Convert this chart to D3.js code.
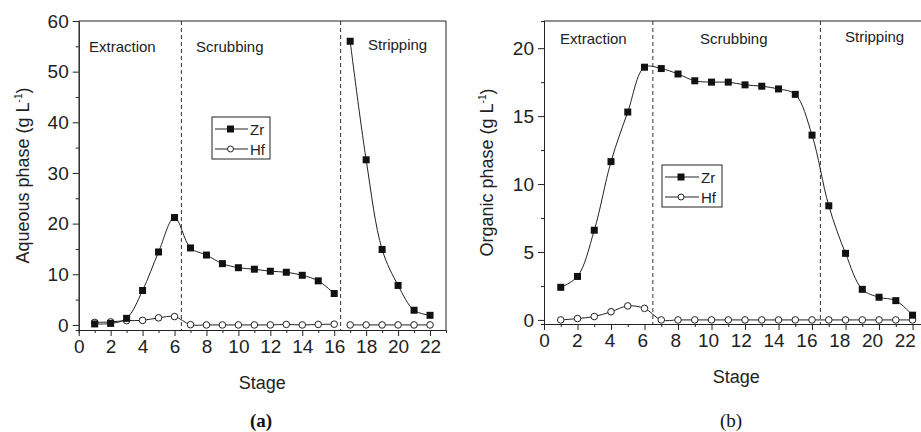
<!DOCTYPE html>
<html>
<head>
<meta charset="utf-8">
<script src="https://cdn.jsdelivr.net/npm/d3@7"></script>
<style>
  body { margin: 0; background: #fff; }
  svg { display: block; font-family: "Liberation Sans", Arial, sans-serif; }
  .axis path, .axis line { stroke: #222; }
  .axis text { fill: #222; font-size: 19px; font-family: "Liberation Sans", Arial, sans-serif; }
</style>
</head>
<body>
<svg width="921" height="432"></svg>
<script>
var stages = [1,2,3,4,5,6,7,8,9,10,11,12,13,14,15,16,17,18,19,20,21,22]
var aqZr = [0.2,0.3,1.3,6.8,14.4,21.2,15.2,13.8,12.1,11.3,11.0,10.6,10.4,9.8,8.7,6.2,56.0,32.6,14.9,7.8,2.9,1.9]
var aqHf = [0.5,0.6,0.85,0.9,1.4,1.65,0.05,0.0,0.0,0.0,0.0,0.0,0.1,0.0,0.1,0.15,0.0,0.0,0.0,0.0,0.0,0.0]
var orgZr = [2.4,3.2,6.6,11.65,15.3,18.6,18.5,18.1,17.6,17.5,17.5,17.3,17.2,17.0,16.6,13.6,8.4,4.9,2.25,1.67,1.42,0.35]
var orgHf = [0.0,0.1,0.25,0.6,1.03,0.85,0.0,0.0,0.0,0.0,0.0,0.0,0.0,0.0,0.0,0.0,0.0,0.0,0.0,0.0,0.0,0.0]
var stageTicks = [0,2,4,6,8,10,12,14,16,18,20,22]
var stageNames = ["Extraction", "Scrubbing", "Stripping"]
var seriesNames = ["Zr", "Hf"]

var svg = d3.select("svg")

function drawPanel(cfg) {
  var x = d3.scaleLinear().domain([0, 23]).range([cfg.left, cfg.right])
  var y = d3.scaleLinear().domain(cfg.yDomain).range([cfg.bottom, cfg.top])
  // tick labels in panel (b) sit a bit tighter than the ticks themselves
  var xl = d3.scaleLinear().domain([0, 22]).range([cfg.left, cfg.left + 22 * cfg.labelStep])
  var g = svg.append("g")

  // frame
  g.append("line").attr("x1", cfg.left).attr("x2", cfg.right).attr("y1", cfg.top).attr("y2", cfg.top).attr("stroke", "#222")
  g.append("line").attr("x1", cfg.right).attr("x2", cfg.right).attr("y1", cfg.top).attr("y2", cfg.bottom).attr("stroke", "#222")

  // minor ticks
  g.append("g").attr("class", "axis")
   .attr("transform", "translate(0," + cfg.bottom + ")")
   .call(d3.axisBottom(x).tickValues(d3.range(1, 23, 2)).tickSize(3).tickFormat(""))
  g.append("g").attr("class", "axis")
   .attr("transform", "translate(" + cfg.left + ",0)")
   .call(d3.axisLeft(y).tickValues(cfg.yMinor).tickSize(3).tickFormat(""))

  g.append("g").attr("class", "axis")
   .attr("transform", "translate(0," + cfg.bottom + ")")
   .call(d3.axisBottom(x).tickValues(stageTicks).tickSize(6).tickFormat("").tickSizeOuter(0))
  var lab = g.append("g").attr("class", "axis")
   .attr("transform", "translate(0," + cfg.bottom + ")")
   .call(d3.axisBottom(xl).tickValues(stageTicks).tickSize(0).tickPadding(10))
  lab.select(".domain").remove()
  g.append("g").attr("class", "axis")
   .attr("transform", "translate(" + cfg.left + ",0)")
   .call(d3.axisLeft(y).tickValues(cfg.yTicks).tickSize(6).tickPadding(4).tickSizeOuter(0))

  // stage boundaries
  cfg.bounds.forEach(function(b) {
    g.append("line")
     .attr("x1", x(b)).attr("x2", x(b))
     .attr("y1", cfg.top).attr("y2", cfg.bottom)
     .attr("stroke", "#333").attr("stroke-dasharray", "4,3")
  })

  stageNames.forEach(function(s, i) {
    g.append("text")
     .attr("x", cfg.labelX[i]).attr("y", cfg.labelY[i])
     .attr("font-size", "15px").attr("fill", "#222")
     .text(s)
  })

  var line = d3.line()
    .x(function(d) { return x(d[0]) })
    .y(function(d) { return y(d[1]) })
    .curve(d3.curveCatmullRom)

  function pairs(vals) { return stages.map(function(s, i) { return [s, vals[i]] }) }
  var zr = pairs(cfg.zr), hf = pairs(cfg.hf)

  cfg.segments.forEach(function(seg) {
    var part = function(p) { return p.filter(function(d) { return d[0] >= seg[0] && d[0] <= seg[1] }) }
    g.append("path").datum(part(hf)).attr("d", line).attr("fill", "none").attr("stroke", "#222").attr("stroke-width", 1)
    g.append("path").datum(part(zr)).attr("d", line).attr("fill", "none").attr("stroke", "#222").attr("stroke-width", 1)
  })

  g.selectAll(".hf").data(hf).enter().append("circle")
   .attr("cx", function(d) { return x(d[0]) })
   .attr("cy", function(d) { return y(d[1]) })
   .attr("r", 3.3).attr("fill", "#fff").attr("stroke", "#222")
  g.selectAll(".zr").data(zr).enter().append("rect")
   .attr("x", function(d) { return x(d[0]) - 3.5 })
   .attr("y", function(d) { return y(d[1]) - 3.5 })
   .attr("width", 7).attr("height", 7).attr("fill", "#111")

  // legend
  var lg = g.append("g").attr("transform", "translate(" + cfg.legend[0] + "," + cfg.legend[1] + ")")
  lg.append("rect").attr("width", cfg.legend[2]).attr("height", 42).attr("fill", "#fff").attr("stroke", "#222")
  seriesNames.forEach(function(n, i) {
    var yy = 12 + i * 20
    lg.append("line").attr("x1", 3).attr("x2", cfg.legLine).attr("y1", yy).attr("y2", yy).attr("stroke", "#222")
    if (i == 0)
      lg.append("rect").attr("x", cfg.legLine / 2 - 3).attr("y", yy - 3.5).attr("width", 7).attr("height", 7).attr("fill", "#111")
    else
      lg.append("circle").attr("cx", cfg.legLine / 2 + 0.5).attr("cy", yy).attr("r", 3).attr("fill", "#fff").attr("stroke", "#222")
    lg.append("text").attr("x", cfg.legLine + 2).attr("y", yy + 5.5).attr("font-size", "15px").attr("fill", "#222").text(n)
  })

  // axis titles
  var yt = g.append("text")
   .attr("transform", "translate(" + cfg.yTitleX + "," + ((cfg.top + cfg.bottom) / 2) + ") rotate(-90)")
   .attr("text-anchor", "middle").attr("font-size", "18px").attr("fill", "#222")
  yt.append("tspan").text(cfg.yTitle + " (g L")
  yt.append("tspan").attr("font-size", "10px").attr("dy", "-7").text("-1")
  yt.append("tspan").attr("dy", "7").text(")")

  g.append("text").attr("x", (x(0) + x(22)) / 2 + 8).attr("y", cfg.bottom + 59)
   .attr("text-anchor", "middle").attr("font-size", "18px").attr("fill", "#222").text("Stage")

  g.append("text").attr("x", cfg.tagX).attr("y", 427)
   .attr("text-anchor", "middle").attr("font-size", "19px").attr("fill", "#111")
   .attr("font-family", "'Liberation Serif', 'Times New Roman', serif")
   .attr("font-weight", cfg.tagBold ? "bold" : "normal")
   .text(cfg.tag)
}

drawPanel({
  left: 78.7, right: 446, top: 21, bottom: 330, labelStep: 15.97,
  yDomain: [-1, 60], yTicks: [0, 10, 20, 30, 40, 50, 60], yMinor: [5, 15, 25, 35, 45, 55],
  zr: aqZr, hf: aqHf, segments: [[1, 16], [17, 22]], bounds: [6.43, 16.4],
  labelX: [89, 196, 368], labelY: [52, 52, 50],
  legend: [212, 117, 58], legLine: 36,
  yTitle: "Aqueous phase", yTitleX: 29,
  tag: "(a)", tagX: 261, tagBold: true
})

drawPanel({
  left: 544, right: 929.3, top: 21, bottom: 324, labelStep: 16.4,
  yDomain: [-0.3, 22], yTicks: [0, 5, 10, 15, 20], yMinor: [2.5, 7.5, 12.5, 17.5],
  zr: orgZr, hf: orgHf, segments: [[1, 22]], bounds: [6.5, 16.5],
  labelX: [560, 700, 845], labelY: [44, 44, 42],
  legend: [662, 165, 60], legLine: 37,
  yTitle: "Organic phase", yTitleX: 493,
  tag: "(b)", tagX: 731, tagBold: false
})
</script>
</body>
</html>
